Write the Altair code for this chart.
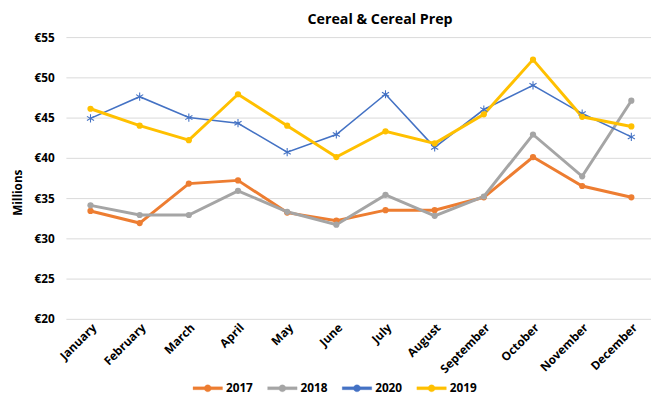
import altair as alt
import pandas as pd

months = ["January", "February", "March", "April", "May", "June", "July",
          "August", "September", "October", "November", "December"]
series_order = ["2017", "2018", "2020", "2019"]
v2017 = [33.4, 31.9, 36.8, 37.2, 33.2, 32.2, 33.5, 33.5, 35.1, 40.1, 36.5, 35.1]
v2018 = [34.1, 32.9, 32.9, 35.9, 33.3, 31.7, 35.4, 32.8, 35.2, 42.9, 37.7, 47.1]
v2020 = [44.9, 47.6, 45.0, 44.3, 40.7, 42.9, 47.9, 41.3, 46.0, 49.0, 45.5, 42.6]
v2019 = [46.1, 44.0, 42.2, 47.9, 44.0, 40.1, 43.3, 41.8, 45.4, 52.2, 45.1, 43.9]
colors = ["#ED7D31", "#A5A5A5", "#4472C4", "#FFC000"]
y_ticks = [20, 25, 30, 35, 40, 45, 50, 55]

values = {"2017": v2017, "2018": v2018, "2020": v2020, "2019": v2019}
rows = []
for s in series_order:
    for i, (m, v) in enumerate(zip(months, values[s])):
        rows.append({"Month": m, "Year": s, "Value": v, "idx": i})
df = pd.DataFrame(rows)

FONT = "Open Sans"
ASTER_V = "M0,-1L0,1M-0.87,-0.5L0.87,0.5M-0.87,0.5L0.87,-0.5"
# legend glyph: a short line with a dot on it (filled shapes, same winding)
LEG_SYM = ("M-1,-0.1L1,-0.1L1,0.1L-1,0.1Z"
           "M-0.24,0A0.24,0.24,0,1,1,0.24,0A0.24,0.24,0,1,1,-0.24,0Z")

month_js = "[" + ",".join(f"'{m}'" for m in months) + "]"
x = alt.X("idx:Q",
          scale=alt.Scale(domain=[-0.5, 11.4], nice=False, zero=False),
          axis=alt.Axis(title=None, values=list(range(len(months))),
                        labelExpr=f"{month_js}[datum.value]",
                        labelAngle=-45, ticks=False, domain=False,
                        grid=False, labelFont=FONT, labelFontWeight="bold",
                        labelFontSize=12, labelColor="#000000", labelPadding=3,
                        labelOverlap=False, labelBound=False, labelFlush=False))
y = alt.Y("Value:Q", scale=alt.Scale(domain=[20, 55], nice=False, zero=False),
          axis=alt.Axis(title="Millions", values=y_ticks,
                        labelExpr="'€' + datum.value", ticks=False, domain=False,
                        grid=True, gridColor="#d9d9d9", gridWidth=1,
                        labelFont=FONT, labelFontWeight="bold", labelFontSize=12,
                        labelColor="#000000", labelPadding=12,
                        titleFont=FONT, titleFontWeight="bold", titleFontSize=12,
                        titleColor="#000000", titlePadding=10, titleY=158))
legend = alt.Legend(title=None, orient="none", direction="horizontal",
                    legendX=129, legendY=342,
                    labelFont=FONT, labelFontWeight="bold", labelFontSize=12,
                    labelColor="#000000", symbolSize=900, symbolType=LEG_SYM,
                    symbolStrokeWidth=0.3, columnPadding=13, labelOffset=3)
color = alt.Color("Year:N", scale=alt.Scale(domain=series_order, range=colors),
                  sort=series_order, legend=legend)

base = alt.Chart(df)

lines = base.mark_line().encode(
    x=x, y=y, color=color,
    strokeWidth=alt.condition("datum.Year === '2020'", alt.value(1.6), alt.value(3)),
    order=alt.Order("idx:Q"),
)

circles = base.transform_filter("datum.Year !== '2020'").mark_point(
    filled=True, opacity=1, size=40, shape="circle").encode(x=x, y=y, color=color)

stars = base.transform_filter("datum.Year === '2020'").mark_point(
    filled=False, opacity=1, size=70, shape=ASTER_V, strokeWidth=1.1).encode(
    x=x, y=y, color=color)

chart = alt.layer(lines, stars, circles).properties(
    width=596, height=287,
    title=alt.Title("Cereal & Cereal Prep", font=FONT, fontSize=14.5, fontWeight="bold",
                    color="#000000", anchor="middle", dx=22, offset=4),
    padding={"left": 3, "top": 0, "right": 0, "bottom": 0},
).configure_view(stroke=None)

chart.save("out.html", embed_options={"renderer": "svg", "actions": False})
